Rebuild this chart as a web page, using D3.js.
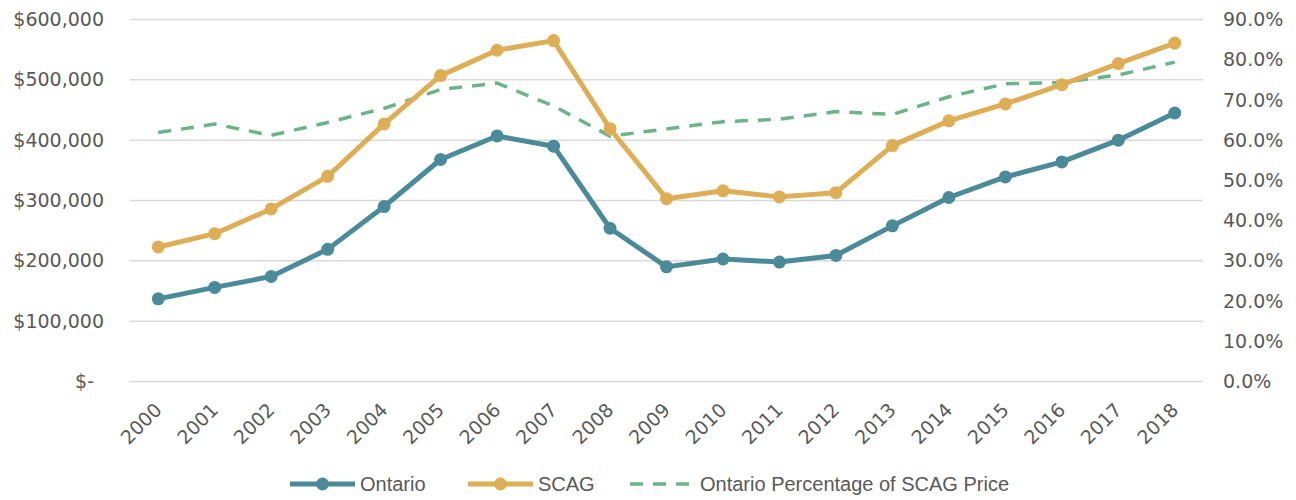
<!DOCTYPE html>
<html>
<head>
<meta charset="utf-8">
<script src="https://cdn.jsdelivr.net/npm/d3@7"></script>
<style>
  body { margin: 0; background: #fff; }
  svg { display: block; }
  .tick text { fill: #595959; }
</style>
</head>
<body>
<svg id="bg" width="1296" height="500"></svg>
<script>
var years = ['2000','2001','2002','2003','2004','2005','2006','2007','2008','2009',
  '2010','2011','2012','2013','2014','2015','2016','2017','2018'];

// median prices
var ontario = [137000,156000,174000,219000,290000,368000,407000,390000,254000,190000,
  203000,198000,209000,258000,305000,339000,364000,400000,445000];
var scag = [223000,245000,286000,340000,427000,507000,549000,565000,419000,303000,
  316000,306000,313000,391000,432000,460000,492000,527000,561000];
var pct = [0.619,0.640,0.612,0.644,0.679,0.726,0.742,0.685,0.610,0.628,
  0.646,0.652,0.671,0.664,0.708,0.740,0.743,0.762,0.794];

var leftTicks = [0,100000,200000,300000,400000,500000,600000];
var rightTicks = [0,0.1,0.2,0.3,0.4,0.5,0.6,0.7,0.8,0.9];

var legendItems = [
  {name: 'Ontario', color: '#4A8A99', dash: null, marker: true, x: 290},
  {name: 'SCAG', color: '#DDAE55', dash: null, marker: true, x: 468},
  {name: 'Ontario Percentage of SCAG Price', color: '#6BB48A', dash: '13,10', marker: false, x: 630}
];

var x0 = 130, x1 = 1203, yTop = 19.5, yBot = 381.5;

var xScale = d3.scaleBand()
  .domain(years)
  .range([x0, x1]);

var yScale = d3.scaleLinear()
  .domain([0, 600000])
  .range([yBot, yTop]);

var pScale = d3.scaleLinear()
  .domain([0, 0.9])
  .range([yBot, yTop]);

var svg = d3.select('#bg');
var fontTick = 'DejaVu Sans, sans-serif';

// gridlines
svg.selectAll('.grid')
  .data(leftTicks)
  .join('line')
  .attr('class', 'grid')
  .attr('x1', x0)
  .attr('x2', x1)
  .attr('y1', d => yScale(d))
  .attr('y2', d => yScale(d))
  .attr('stroke', '#d9d9d9')
  .attr('stroke-width', 1.5);

// left axis
var gl = svg.append('g')
  .attr('transform', 'translate(' + x0 + ',0)')
  .call(d3.axisLeft(yScale)
    .tickValues(leftTicks)
    .tickSize(0)
    .tickPadding(26)
    .tickFormat(d => d == 0 ? '$-' : d3.format('$,')(d)));
gl.select('.domain').remove();
gl.selectAll('text')
  .attr('font-family', fontTick)
  .attr('font-size', 19)
  .attr('dx', d => d == 0 ? -10 : 0);

// right axis
var gr = svg.append('g')
  .attr('transform', 'translate(' + x1 + ',0)')
  .call(d3.axisRight(pScale)
    .tickValues(rightTicks)
    .tickSize(0)
    .tickPadding(20)
    .tickFormat(d3.format('.1%')));
gr.select('.domain').remove();
gr.selectAll('text')
  .attr('font-family', fontTick)
  .attr('font-size', 19);

// bottom axis, rotated years
var gb = svg.append('g')
  .attr('transform', 'translate(0,' + yBot + ')')
  .call(d3.axisBottom(xScale).tickSize(0).tickPadding(0));
gb.select('.domain').remove();
gb.selectAll('text')
  .attr('font-family', fontTick)
  .attr('font-size', 19)
  .attr('text-anchor', 'end')
  .attr('dy', '0.35em')
  .attr('transform', 'translate(0,25) rotate(-45)');

var xc = d => xScale(d) + xScale.bandwidth() / 2;

function dibujarLinea(data, color, width, dash, scale) {
  svg.append('path')
    .datum(data)
    .attr('fill', 'none')
    .attr('stroke', color)
    .attr('stroke-width', width)
    .attr('stroke-linejoin', 'round')
    .attr('stroke-dasharray', dash)
    .attr('d', d3.line()
      .x((d, i) => xc(years[i]))
      .y(d => scale(d)));
}

function dibujarPuntos(data, color, clase) {
  svg.selectAll('.' + clase)
    .data(data)
    .join('circle')
    .attr('class', clase)
    .attr('cx', (d, i) => xc(years[i]))
    .attr('cy', d => yScale(d))
    .attr('r', 6.5)
    .attr('fill', color);
}

dibujarLinea(pct, legendItems[2].color, 3.5, legendItems[2].dash, pScale);
dibujarLinea(ontario, legendItems[0].color, 5, null, yScale);
dibujarPuntos(ontario, legendItems[0].color, 'pt_ont');
dibujarLinea(scag, legendItems[1].color, 5, null, yScale);
dibujarPuntos(scag, legendItems[1].color, 'pt_scag');

// legend
var lg = svg.selectAll('.leg')
  .data(legendItems)
  .join('g')
  .attr('class', 'leg')
  .attr('transform', d => 'translate(' + d.x + ',484)');

lg.append('line')
  .attr('x1', 0)
  .attr('x2', 65)
  .attr('stroke', d => d.color)
  .attr('stroke-width', d => d.marker ? 5 : 3.5)
  .attr('stroke-dasharray', d => d.dash);

lg.filter(d => d.marker)
  .append('circle')
  .attr('cx', 32.5)
  .attr('r', 6.5)
  .attr('fill', d => d.color);

lg.append('text')
  .attr('x', 70)
  .attr('dy', '0.35em')
  .attr('font-family', 'Liberation Sans, Arial, sans-serif')
  .attr('font-size', 20)
  .attr('fill', '#595959')
  .text(d => d.name);
</script>
</body>
</html>
